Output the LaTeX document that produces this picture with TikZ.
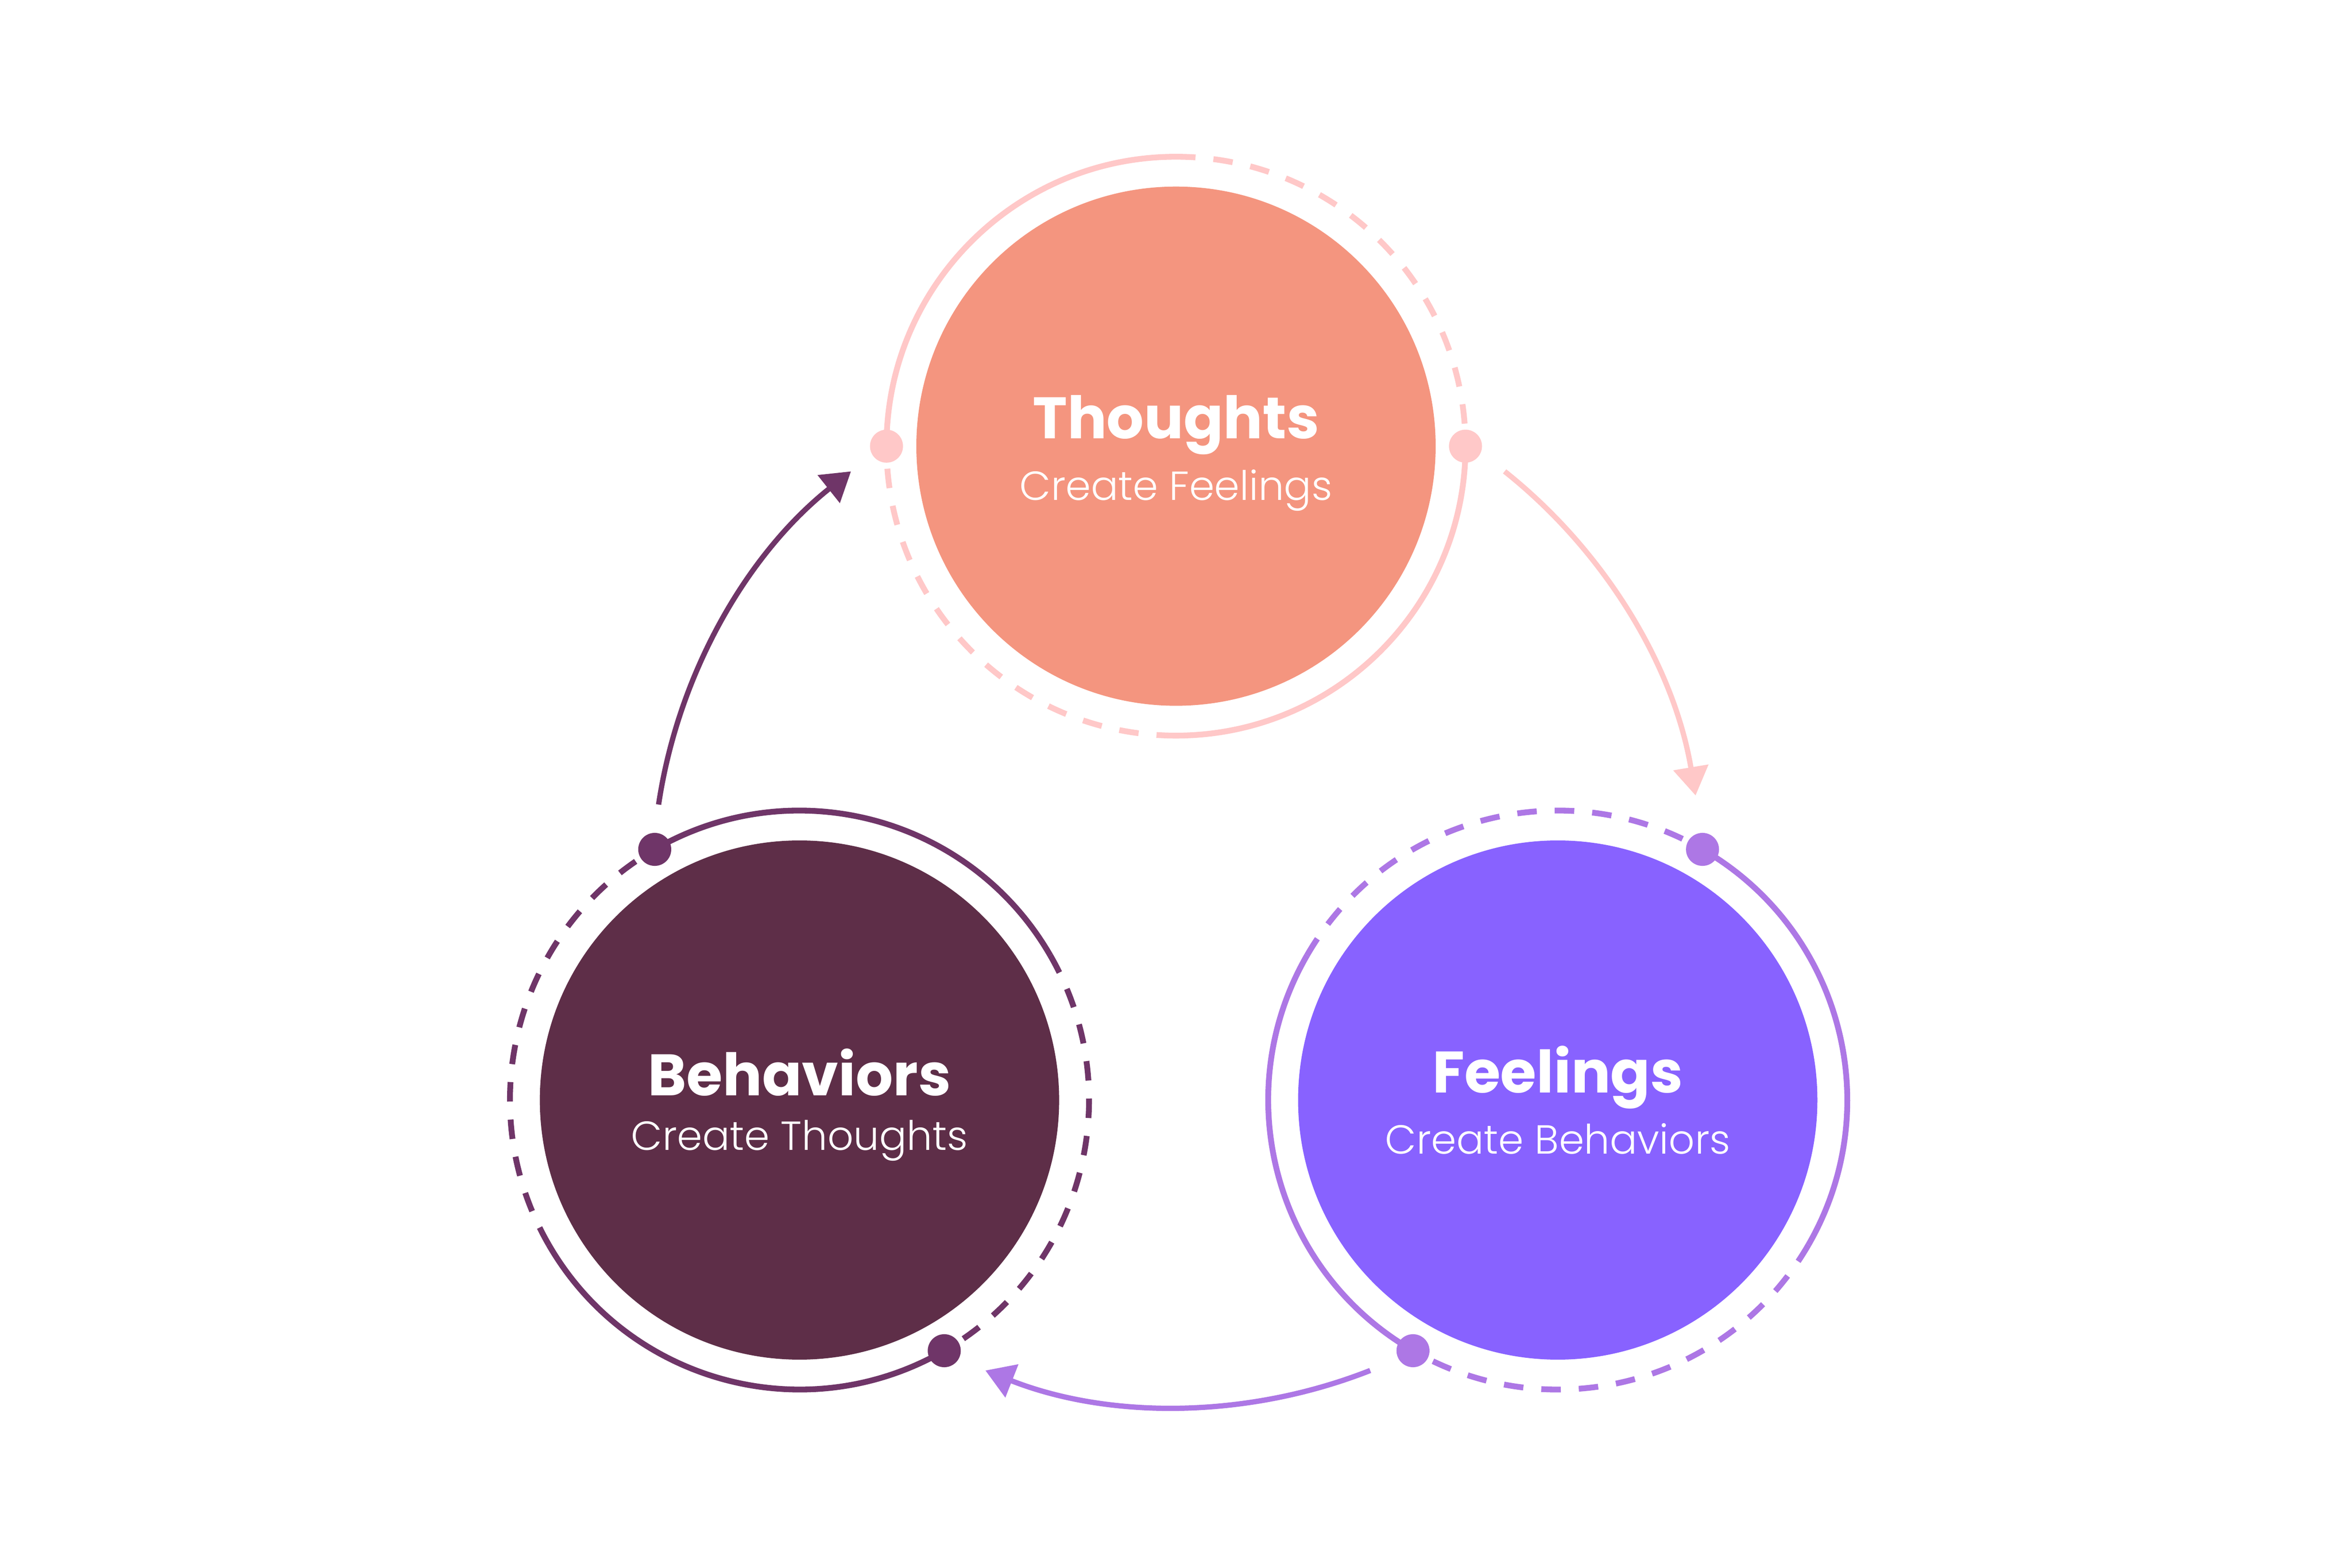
\documentclass[tikz,border=0pt]{standalone}
\usepackage{fontspec}
\setmainfont{Poppins}
\newfontfamily\lightfont{Poppins Light}
\usetikzlibrary{arrows.meta}
\definecolor{tfill}{HTML}{F4957F}
\definecolor{tring}{HTML}{FFC8C8}
\definecolor{bfill}{HTML}{5E2E48}
\definecolor{bring}{HTML}{6F3568}
\definecolor{ffill}{HTML}{8862FF}
\definecolor{fring}{HTML}{AD77E5}
\newcommand\ringarcs[3]{%
  \draw[ringsolid,#3] (#1) ++(180+#2:193) arc[start angle=180+#2, end angle=90+#2, radius=193];
  \draw[ringsolid,#3] (#1) ++(0+#2:193) arc[start angle=0+#2, end angle=-90+#2, radius=193];
  \draw[ringdash,#3] (#1) ++(90+#2:193) arc[start angle=90+#2, end angle=0+#2, radius=193];
  \draw[ringdash,#3] (#1) ++(-90+#2:193) arc[start angle=-90+#2, end angle=-180+#2, radius=193];
  \path (#1) ++(180+#2:193) node[dot,fill=#3] (#1da) {};
  \path (#1) ++(0+#2:193) node[dot,fill=#3] (#1db) {};
}
\begin{document}
\begin{tikzpicture}[x=0.01cm,y=0.01cm,
  core/.style={circle, inner sep=0pt, minimum size=3.46cm, draw=none},
  ringsolid/.style={line width=1.1pt},
  ringdash/.style={line width=1.1pt, dash pattern=on 0.13cm off 0.12cm},
  flow/.style={line width=1pt, -{Triangle[length=0.19cm,width=0.23cm]}},
  title/.style={text=white, font=\bfseries\fontsize{11.1}{13}\selectfont, anchor=base, inner sep=0pt},
  sub/.style={text=white, font=\lightfont\fontsize{7.7}{9}\selectfont, anchor=base, inner sep=0pt},
  dot/.style={circle, inner sep=0pt, minimum size=0.22cm, draw=none}]
\fill[white] (0,0) rectangle (1568,1045.33);
\useasboundingbox (0,0) rectangle (1568,1045.33);
\coordinate (G) at (785.2,457.1);
% cores
\node[core, fill=tfill] (T) at (784,747.8) {};
\node[core, fill=bfill] (B) at (533,311.8) {};
\node[core, fill=ffill] (F) at (1038.5,311.8) {};
% rings
\ringarcs{T}{0}{tring}
\ringarcs{B}{120}{bring}
\ringarcs{F}{-120}{fring}
% texts
\node[title] (Tt) at (784,752.8) {Thoughts};
\node[sub] (Ts) at (784,711.9) {Create Feelings};
\node[title] (Bt) at (533,314.8) {Behaviors};
\node[sub] (Bs) at (533,278.5) {Create Thoughts};
\node[title] (Ft) at (1038.5,316.8) {Feelings};
\node[sub] (Fs) at (1038.5,276) {Create Behaviors};
% connectors
\path (G) ++(51.5:350) coordinate (a1s);
\path (G) ++(-68.5:350) coordinate (a2s);
\path (G) ++(171.5:350) coordinate (a3s);
\draw[flow, tring] (a1s) arc[start angle=51.5, end angle=9.5, radius=350];
\draw[flow, fring] (a2s) arc[start angle=-68.5, end angle=-111.5, radius=350];
\draw[flow, bring] (a3s) arc[start angle=171.5, end angle=128.5, radius=350];
\end{tikzpicture}
\end{document}
